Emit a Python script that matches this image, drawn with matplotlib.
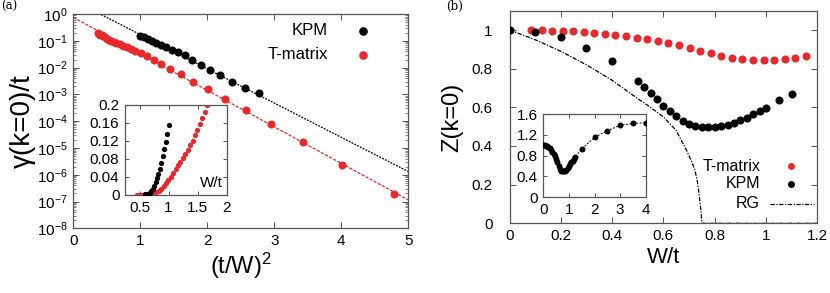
import matplotlib
matplotlib.use('Agg')
import matplotlib.pyplot as plt
import numpy as np
from matplotlib.ticker import LogLocator, NullFormatter, FixedLocator, FixedFormatter

plt.rcParams['font.family'] = ['Liberation Sans', 'DejaVu Sans']
plt.rcParams['mathtext.fontset'] = 'custom'
plt.rcParams['mathtext.rm'] = 'Liberation Sans'
plt.rcParams['mathtext.it'] = 'Liberation Sans:italic'
plt.rcParams['mathtext.default'] = 'rm'

# ---------------- data: panel (a) ----------------
kpm_a_W = [0.6, 0.625, 0.65, 0.675, 0.7, 0.725, 0.75, 0.775, 0.8, 0.825, 0.85,
           0.875, 0.9, 0.925, 0.95, 0.975, 1.0]
kpm_a_gamma = [0.00117, 0.00178, 0.0028, 0.0051, 0.0081, 0.0125, 0.0192, 0.0295,
               0.037, 0.0471, 0.0585, 0.0714, 0.0857, 0.1014, 0.1183, 0.1365, 0.156]

tmat_a_W = [0.457, 0.499, 0.540, 0.582, 0.623, 0.665, 0.706, 0.748, 0.789, 0.831,
            0.872, 0.914, 0.955, 0.997, 1.038, 1.080, 1.121, 1.163, 1.204, 1.246,
            1.287, 1.329, 1.370, 1.412, 1.453, 1.495, 1.536, 1.578, 1.619, 1.661]
tmat_a_gamma = [1.9e-7, 2.4e-6, 1.66e-5, 7.6e-5, 2.6e-4, 6.8e-4, 1.55e-3, 2.98e-3,
                5.6e-3, 8.6e-3, 1.32e-2, 1.92e-2, 2.71e-2, 0.034, 0.041, 0.049,
                0.057, 0.066, 0.074, 0.083, 0.092, 0.101, 0.111, 0.121, 0.133,
                0.145, 0.158, 0.171, 0.185, 0.200]

# straight-line fits (log scale), endpoints at (t/W)^2 = 0 and 5
fit_x = [0.0, 5.0]
fit_kpm = [3.24, 1.31e-6]
fit_tmat = [0.752, 1.15e-7]

a_xticks = [0, 1, 2, 3, 4, 5]
a_yticks = [1e-8, 1e-7, 1e-6, 1e-5, 1e-4, 1e-3, 1e-2, 1e-1, 1e0]
a_ytick_labels = [r'$10^{-8}$', r'$10^{-7}$', r'$10^{-6}$', r'$10^{-5}$', r'$10^{-4}$',
                  r'$10^{-3}$', r'$10^{-2}$', r'$10^{-1}$', r'$10^{0}$']
ia_xticks = [0.5, 1, 1.5, 2]
ia_xtick_labels = ['0.5', '1', '1.5', '2']
ia_yticks = [0, 0.04, 0.08, 0.12, 0.16, 0.2]
ia_ytick_labels = ['0', '0.04', '0.08', '0.12', '0.16', '0.2']

# ---------------- data: panel (b) ----------------
tmat_b_W = [0.083, 0.125, 0.166, 0.207, 0.248, 0.289, 0.331, 0.372, 0.413, 0.454,
            0.496, 0.537, 0.578, 0.619, 0.661, 0.702, 0.743, 0.784, 0.826, 0.867,
            0.908, 0.949, 0.991, 1.032, 1.073, 1.114, 1.156]
tmat_b_Z = [1.000, 0.998, 0.997, 0.995, 0.993, 0.990, 0.986, 0.981, 0.976, 0.969,
            0.961, 0.952, 0.943, 0.933, 0.921, 0.907, 0.893, 0.880, 0.868, 0.856,
            0.850, 0.845, 0.844, 0.847, 0.852, 0.857, 0.866]

kpm_b_W = [0.0, 0.1, 0.2, 0.3, 0.4, 0.5, 0.525, 0.55, 0.575, 0.6, 0.625, 0.65,
           0.675, 0.7, 0.725, 0.75, 0.775, 0.8, 0.825, 0.85, 0.875, 0.9, 0.925,
           0.95, 0.975, 1.0, 1.05, 1.1]
kpm_b_Z = [1.0, 0.990, 0.962, 0.909, 0.838, 0.736, 0.706, 0.675, 0.641, 0.609,
           0.580, 0.553, 0.530, 0.513, 0.504, 0.499, 0.497, 0.497, 0.501, 0.509,
           0.520, 0.532, 0.547, 0.565, 0.580, 0.599, 0.637, 0.671]

kpm_inset_W = [0.0, 0.05, 0.1, 0.15, 0.2, 0.25, 0.3, 0.35, 0.4, 0.45, 0.5, 0.55,
               0.6, 0.65, 0.7, 0.75, 0.8, 0.85, 0.9, 0.95, 1.0, 1.05, 1.1, 1.15,
               1.2, 1.25, 1.5, 2.0, 2.5, 3.0, 3.5, 4.0]
kpm_inset_Z = [1.0, 0.997, 0.990, 0.978, 0.962, 0.938, 0.909, 0.877, 0.838, 0.79,
               0.736, 0.675, 0.609, 0.553, 0.513, 0.499, 0.497, 0.509, 0.532,
               0.565, 0.599, 0.637, 0.671, 0.70, 0.735, 0.77, 0.93, 1.15, 1.28,
               1.38, 1.42, 1.43]

rg_W = [0.0, 0.1, 0.2, 0.3, 0.4, 0.5, 0.55, 0.6, 0.65, 0.69, 0.71, 0.723, 0.732,
        0.739, 0.746, 0.75, 1.2]
rg_Z = [1.0, 0.95, 0.89, 0.82, 0.74, 0.645, 0.60, 0.55, 0.48, 0.378, 0.32, 0.275,
        0.22, 0.155, 0.069, 0.0, 0.0]

b_xticks = [0, 0.2, 0.4, 0.6, 0.8, 1.0, 1.2]
b_xtick_labels = ['0', '0.2', '0.4', '0.6', '0.8', '1', '1.2']
b_yticks = [0, 0.2, 0.4, 0.6, 0.8, 1.0]
b_ytick_labels = ['0', '0.2', '0.4', '0.6', '0.8', '1']
ib_xticks = [0, 1, 2, 3, 4]
ib_xtick_labels = ['0', '1', '2', '3', '4']
ib_yticks = [0, 0.4, 0.8, 1.2, 1.6]
ib_ytick_labels = ['0', '0.4', '0.8', '1.2', '1.6']

RED = '#e8282a'
BLACK = '#000000'
FRAME = '#555555'
TICKFS = 11

W_px, H_px = 830, 293
fig = plt.figure(figsize=(W_px / 100, H_px / 100), dpi=100)


def rect(l, t, r, b):
    return [l / W_px, 1 - b / H_px, (r - l) / W_px, (b - t) / H_px]


def style(ax, fs=TICKFS):
    for s in ax.spines.values():
        s.set_color(FRAME)
        s.set_linewidth(0.9)
    ax.tick_params(which='both', direction='in', top=True, right=True,
                   labelsize=fs, color=FRAME, pad=4)
    ax.tick_params(which='major', length=4, width=0.7)
    ax.tick_params(which='minor', length=2, width=0.5)


def legend_row(ax, label, xt, xm, y, fs, marker=None, color=None, ms=6, line=None):
    ax.text(xt, y, label, transform=ax.transAxes, ha='right', va='center', fontsize=fs)
    if marker is not None:
        ax.plot([xm], [y], marker, color=color, ms=ms, mec='none',
                transform=ax.transAxes, clip_on=False)
    if line is not None:
        ax.plot(line, [y, y], color=color, lw=0.9, ls=(0, (3.5, 1.2, 1.0, 1.2)),
                transform=ax.transAxes, clip_on=False)


# ---------- panel (a) ----------
ax = fig.add_axes(rect(73.3, 14, 408.3, 228.3))
ka_x = [1.0 / w ** 2 for w in kpm_a_W]
ta_x = [1.0 / w ** 2 for w in tmat_a_W]
ax.plot(fit_x, fit_kpm, color=BLACK, lw=0.9, ls=(0, (1.5, 1.0)), zorder=1)
ax.plot(fit_x, fit_tmat, color=RED, lw=0.9, ls=(0, (2.5, 1.2)), zorder=1)
ax.plot(ka_x, kpm_a_gamma, 'o', color=BLACK, ms=5.8, mec='none', zorder=3)
ax.plot(ta_x, tmat_a_gamma, 'o', color=RED, ms=5.8, mec='none', zorder=3)
ax.set_yscale('log')
ax.set_xlim(0, 5)
ax.set_ylim(1e-8, 1)
ax.xaxis.set_major_locator(FixedLocator(a_xticks))
ax.set_xticklabels([str(v) for v in a_xticks])
ax.yaxis.set_major_locator(FixedLocator(a_yticks))
ax.yaxis.set_major_formatter(FixedFormatter(a_ytick_labels))
ax.yaxis.set_minor_locator(LogLocator(base=10, subs=np.arange(2, 10) * 1.0, numticks=20))
ax.yaxis.set_minor_formatter(NullFormatter())
style(ax)
ax.set_xlabel(r'(t/W)$^{2}$', fontsize=17, labelpad=2)
ax.set_ylabel('γ(k=0)/t', fontsize=20, labelpad=1)
legend_row(ax, 'KPM', 0.760, 0.864, 0.921, 12, 'o', BLACK, 6.2)
legend_row(ax, 'T-matrix', 0.760, 0.864, 0.809, 12, 'o', RED, 6.2)
fig.text(1 / W_px, 1 - 6 / H_px, '(a)', family='DejaVu Serif', fontsize=8.5, va='center', ha='left')

# inset (a)
ia = fig.add_axes(rect(125, 105, 226.7, 195))
ia.plot(tmat_a_W, tmat_a_gamma, 'o', color=RED, ms=3.8, mec='none', zorder=2)
ia.plot(kpm_a_W, kpm_a_gamma, 'o', color=BLACK, ms=3.8, mec='none', zorder=3)
ia.set_xlim(0.25, 2.0)
ia.set_ylim(0, 0.2)
ia.xaxis.set_major_locator(FixedLocator(ia_xticks))
ia.xaxis.set_major_formatter(FixedFormatter(ia_xtick_labels))
ia.yaxis.set_major_locator(FixedLocator(ia_yticks))
ia.yaxis.set_major_formatter(FixedFormatter(ia_ytick_labels))
style(ia)
ia.tick_params(which='major', length=3)
ia.text(0.96, 0.06, 'W/t', transform=ia.transAxes, ha='right', va='bottom', fontsize=11)

# ---------- panel (b) ----------
bx = fig.add_axes(rect(509.5, 10.7, 817.3, 223.3))
bx.plot(rg_W, rg_Z, color=BLACK, lw=0.9, ls=(0, (3.5, 1.2, 1.0, 1.2)), zorder=1)
bx.plot(tmat_b_W, tmat_b_Z, 'o', color=RED, ms=5.8, mec='none', zorder=3)
bx.plot(kpm_b_W, kpm_b_Z, 'o', color=BLACK, ms=5.8, mec='none', zorder=3)
bx.set_xlim(0, 1.2)
bx.set_ylim(0, 1.1)
bx.xaxis.set_major_locator(FixedLocator(b_xticks))
bx.xaxis.set_major_formatter(FixedFormatter(b_xtick_labels))
bx.yaxis.set_major_locator(FixedLocator(b_yticks))
bx.yaxis.set_major_formatter(FixedFormatter(b_ytick_labels))
style(bx)
bx.tick_params(axis='y', pad=12)
bx.set_xlabel('W/t', fontsize=16, labelpad=3)
bx.set_ylabel('Z(k=0)', fontsize=17, labelpad=6)
legend_row(bx, 'T-matrix', 0.814, 0.916, 0.2695, 11.5, 'o', RED, 5.0)
legend_row(bx, 'KPM', 0.814, 0.916, 0.185, 11.5, 'o', BLACK, 5.0)
legend_row(bx, 'RG', 0.814, None, 0.0908, 11.5, None, BLACK, line=[0.846, 0.989])
fig.text(446 / W_px, 1 - 6 / H_px, '(b)', family='DejaVu Serif', fontsize=8.5, va='center', ha='left')

# inset (b)
ib = fig.add_axes(rect(543.3, 114, 645.7, 197.3))
ib.plot(kpm_inset_W, kpm_inset_Z, 'o', color=BLACK, ms=4.3, mec='none',
        ls=(0, (2.0, 1.5)), lw=0.7, zorder=3)
ib.set_xlim(0, 4)
ib.set_ylim(0, 1.6)
ib.xaxis.set_major_locator(FixedLocator(ib_xticks))
ib.xaxis.set_major_formatter(FixedFormatter(ib_xtick_labels))
ib.yaxis.set_major_locator(FixedLocator(ib_yticks))
ib.yaxis.set_major_formatter(FixedFormatter(ib_ytick_labels))
style(ib)
ib.tick_params(which='major', length=3)

fig.savefig('out.png', dpi=100)
